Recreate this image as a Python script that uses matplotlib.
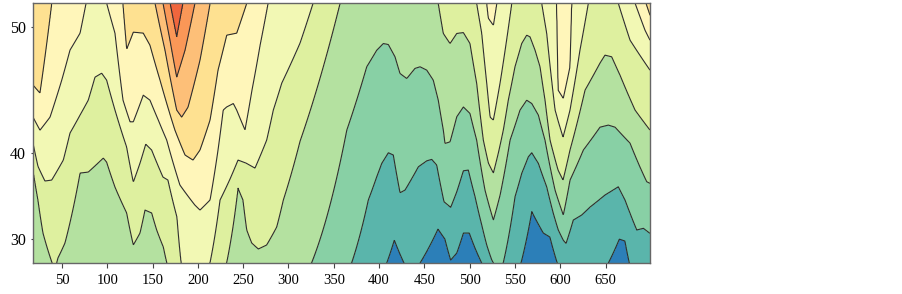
import numpy as np
import matplotlib
matplotlib.use("Agg")
import matplotlib.pyplot as plt

# ---- data: contour level boundaries (x, y) for levels 1..10 ----
b1_x = [18.0, 401.0, 408.4, 416.8, 427.5, 434.1, 442.9, 445.2, 465.0, 472.7, 479.0, 485.7, 493.0, 499.6, 505.9, 513.3, 519.1, 550.0, 556.6, 568.5, 581.3, 588.6, 596.7, 601.9, 647.1, 653.0, 665.1, 671.4, 676.2, 681.4, 699.0]
b1_y = [24.0, 24.0, 26.21, 29.92, 26.21, 24.0, 24.0, 26.21, 31.48, 30.06, 26.74, 27.92, 30.92, 30.92, 28.71, 26.21, 24.0, 24.0, 26.21, 33.73, 30.92, 30.35, 26.21, 24.0, 24.0, 26.21, 30.06, 29.77, 26.21, 24.0, 24.0]

b2_x = [18.0, 356.9, 369.8, 388.1, 397.4, 402.9, 410.2, 415.7, 423.1, 428.6, 443.3, 452.6, 458.1, 463.6, 471.6, 479.0, 485.7, 493.0, 498.5, 505.9, 513.3, 518.8, 524.3, 526.1, 528.0, 535.4, 537.1, 542.3, 550.0, 557.4, 564.7, 568.5, 575.8, 585.0, 592.3, 597.8, 603.3, 606.3, 614.3, 623.6, 632.8, 649.3, 664.0, 671.4, 677.0, 684.4, 691.7, 699.0]
b2_y = [24.0, 24.0, 26.21, 35.10, 37.65, 39.00, 40.03, 39.81, 35.92, 36.22, 38.66, 39.25, 39.39, 38.83, 34.90, 34.24, 36.03, 38.26, 38.33, 35.48, 32.01, 29.17, 26.74, 26.21, 25.3, 25.3, 26.21, 29.92, 35.48, 38.00, 39.64, 40.03, 39.00, 36.58, 33.51, 31.34, 29.9, 29.4, 32.66, 33.30, 34.27, 35.67, 36.58, 35.10, 33.51, 31.34, 31.57, 30.87]

b3_x = [18.0, 312.7, 325.6, 364.3, 386.3, 397.4, 404.7, 410.2, 417.6, 423.1, 430.5, 439.6, 445.2, 452.6, 459.8, 465.3, 470.9, 472.7, 478.3, 485.7, 493.0, 500.3, 507.7, 516.9, 526.1, 533.5, 544.5, 555.5, 562.9, 568.5, 575.8, 583.1, 594.2, 603.3, 610.7, 625.4, 643.8, 653.0, 660.4, 677.0, 688.0, 695.4, 699.0]
b3_y = [24.0, 24.0, 26.21, 42.09, 47.19, 48.40, 48.87, 48.80, 47.92, 46.69, 46.31, 47.07, 47.19, 46.94, 46.18, 44.61, 42.09, 40.89, 41.04, 43.24, 44.06, 43.52, 41.20, 36.22, 32.66, 35.67, 41.20, 43.80, 44.61, 44.34, 43.38, 41.20, 36.22, 33.30, 37.30, 40.28, 42.35, 42.53, 42.35, 40.92, 38.63, 37.12, 36.95]

b4_x = [18.0, 23.5, 29.0, 36.8, 40.1, 43.4, 45.6, 53.3, 69.9, 79.0, 95.6, 99.3, 108.5, 121.4, 128.7, 136.1, 141.6, 149.0, 154.5, 161.8, 165.6, 169.2, 226.6, 231.8, 238.7, 244.3, 249.8, 253.9, 259.4, 266.7, 275.9, 287.0, 294.3, 312.7, 356.9, 360.2, 461.7, 465.3, 470.9, 478.3, 485.7, 493.0, 500.3, 507.7, 515.0, 520.6, 526.1, 531.6, 537.1, 542.6, 550.0, 557.4, 562.9, 566.6, 572.1, 577.6, 583.1, 588.6, 597.5, 603.0, 610.7, 627.3, 643.8, 649.3, 656.7, 665.9, 682.5, 699.0]
b4_y = [38.33, 35.10, 30.92, 27.25, 25.67, 25.67, 27.08, 29.47, 38.03, 38.13, 39.52, 39.12, 36.55, 33.55, 29.17, 30.92, 33.91, 33.55, 31.34, 28.86, 26.21, 24.0, 24.0, 26.21, 31.74, 36.44, 35.10, 31.34, 29.47, 28.55, 29.17, 31.74, 35.10, 41.10, 51.60, 53.0, 53.0, 51.60, 49.57, 48.87, 49.57, 49.63, 48.87, 45.93, 41.20, 39.03, 38.03, 40.00, 42.09, 44.61, 47.19, 48.87, 49.45, 49.33, 48.40, 47.19, 44.61, 41.20, 38.33, 37.30, 40.28, 45.41, 47.46, 48.04, 47.92, 46.56, 43.80, 42.09]

b5_x = [18.0, 23.5, 31.2, 38.6, 51.4, 58.8, 69.9, 79.0, 86.4, 93.8, 99.3, 108.5, 121.4, 128.7, 136.1, 142.4, 149.0, 161.5, 167.0, 176.9, 181.4, 185.8, 207.8, 213.4, 224.4, 235.4, 244.3, 253.1, 263.0, 275.9, 283.2, 292.5, 312.7, 327.1, 330.4, 504.8, 507.7, 513.3, 518.8, 522.5, 526.1, 533.5, 546.4, 548.9, 575.4, 579.5, 585.0, 594.2, 603.0, 610.7, 621.7, 630.9, 633.9, 660.4, 664.0, 677.0, 699.0]
b5_y = [40.92, 38.7, 37.20, 37.30, 39.32, 41.83, 43.38, 44.61, 46.41, 46.71, 46.18, 43.80, 40.56, 37.09, 39.03, 40.83, 40.28, 37.61, 37.30, 33.04, 26.21, 24.0, 24.0, 26.21, 35.10, 37.40, 39.32, 39.03, 38.53, 41.20, 43.80, 45.95, 48.90, 51.60, 53.0, 53.0, 51.60, 49.59, 45.95, 43.21, 42.96, 45.95, 51.60, 53.0, 53.0, 51.60, 49.59, 43.80, 41.47, 43.80, 48.40, 51.60, 53.0, 53.0, 51.60, 49.10, 46.94]

b6_x = [18.0, 25.7, 36.8, 49.7, 58.8, 69.9, 76.5, 78.7, 97.5, 99.3, 108.5, 117.3, 125.1, 128.7, 139.7, 147.1, 156.3, 165.6, 180.2, 196.7, 202.3, 213.4, 222.2, 227.9, 231.8, 239.1, 242.8, 252.0, 259.7, 268.6, 277.4, 281.8, 516.9, 518.8, 520.6, 526.1, 529.9, 532.4, 593.1, 596.0, 597.5, 603.3, 610.7, 612.5, 615.1, 679.2, 682.5, 693.5, 699.0]
b6_y = [43.21, 42.09, 43.21, 46.18, 48.40, 49.59, 51.60, 53.0, 53.0, 51.60, 49.59, 44.61, 42.81, 42.81, 45.01, 44.61, 42.96, 41.20, 36.77, 34.51, 33.91, 35.10, 40.28, 43.80, 44.06, 44.34, 43.80, 42.09, 45.41, 48.75, 51.60, 53.0, 53.0, 51.60, 50.60, 50.13, 51.60, 53.0, 53.0, 51.60, 45.41, 44.75, 47.19, 51.60, 53.0, 53.0, 51.60, 49.79, 49.10]

b7_x = [18.0, 25.7, 38.6, 42.3, 111.8, 117.3, 121.4, 128.7, 139.7, 147.1, 158.2, 174.7, 185.8, 194.6, 202.3, 213.4, 222.2, 231.8, 242.8, 253.9, 257.6, 691.0, 694.5, 699.0]
b7_y = [45.80, 45.17, 51.60, 53.0, 53.0, 51.60, 48.47, 49.66, 49.59, 48.75, 46.18, 42.09, 39.81, 39.32, 40.28, 42.96, 46.94, 49.45, 49.59, 51.60, 53.0, 53.0, 51.60, 50.8]

b8_x = [141.6, 152.7, 163.7, 176.6, 182.1, 189.1, 202.3, 213.4, 218.9]
b8_y = [53.0, 51.60, 48.40, 43.80, 43.21, 44.04, 47.68, 51.60, 53.0]

b9_x = [152.7, 161.5, 169.2, 176.6, 185.8, 196.7, 202.3]
b9_y = [53.0, 51.60, 49.10, 46.41, 48.40, 51.60, 53.0]

b10_x = [163.7, 169.2, 176.6, 183.6, 189.1]
b10_y = [53.0, 51.60, 49.31, 51.60, 53.0]

x_ticks = [50, 100, 150, 200, 250, 300, 350, 400, 450, 500, 550, 600, 650]
y_ticks = [30, 40, 50]

level_colors = ["#2c7fb8", "#5ab5ab", "#88d0a5", "#b4e1a0", "#def09f",
                "#f2f8b4", "#fff6ba", "#fee191", "#fdbf78", "#fa9757", "#f0663d"]

# ---- build the field from the boundaries ----
bounds = [(b1_x, b1_y), (b2_x, b2_y), (b3_x, b3_y), (b4_x, b4_y), (b5_x, b5_y),
          (b6_x, b6_y), (b7_x, b7_y), (b8_x, b8_y), (b9_x, b9_y), (b10_x, b10_y)]
xs = np.linspace(18, 699, 1400)
ys = np.linspace(23.5, 53.5, 900)
H = np.array([np.interp(xs, bx, by) for bx, by in bounds])      # (10, nx)
H = np.maximum.accumulate(H, axis=0) + np.arange(10)[:, None] * 1e-4
Z = np.empty((ys.size, xs.size))
kv = np.arange(0, 12, dtype=float)
for j in range(xs.size):
    hp = np.concatenate(([10.0], H[:, j], [70.0]))
    Z[:, j] = np.interp(ys, hp, kv)

fig = plt.figure(figsize=(9.03, 2.94), dpi=100)
ax = fig.add_axes([33 / 903, 1 - 263 / 294, 617 / 903, 260 / 294])
ax.set_yscale('function', functions=(lambda v: np.sign(v) * np.abs(v) ** 2.5,
                                     lambda v: np.sign(v) * np.abs(v) ** 0.4))
lev = [-0.5] + list(range(1, 11)) + [11.5]
ax.contourf(xs, ys, Z, levels=lev, colors=level_colors)
ax.contour(xs, ys, Z, levels=list(range(1, 11)), colors="#2e2e2e", linewidths=0.8)
ax.set_xlim(18, 699)
ax.set_ylim(26.21, 51.6)
ax.set_xticks(x_ticks)
ax.set_yticks(y_ticks)
ax.yaxis.set_minor_locator(matplotlib.ticker.NullLocator())
for lab in ax.get_xticklabels():
    lab.set_family("Liberation Serif")
    lab.set_fontsize(10.5)
for lab in ax.get_yticklabels():
    lab.set_family("Liberation Serif")
    lab.set_fontsize(11.5)
ax.tick_params(axis='x', length=3.6, width=0.8, color="#444444", pad=4.5)
ax.tick_params(axis='y', length=1.5, width=0.8, color="#444444", pad=3.5)
for s in ax.spines.values():
    s.set_color("#666666")
    s.set_linewidth(1.0)
fig.savefig("out.png", dpi=100)
